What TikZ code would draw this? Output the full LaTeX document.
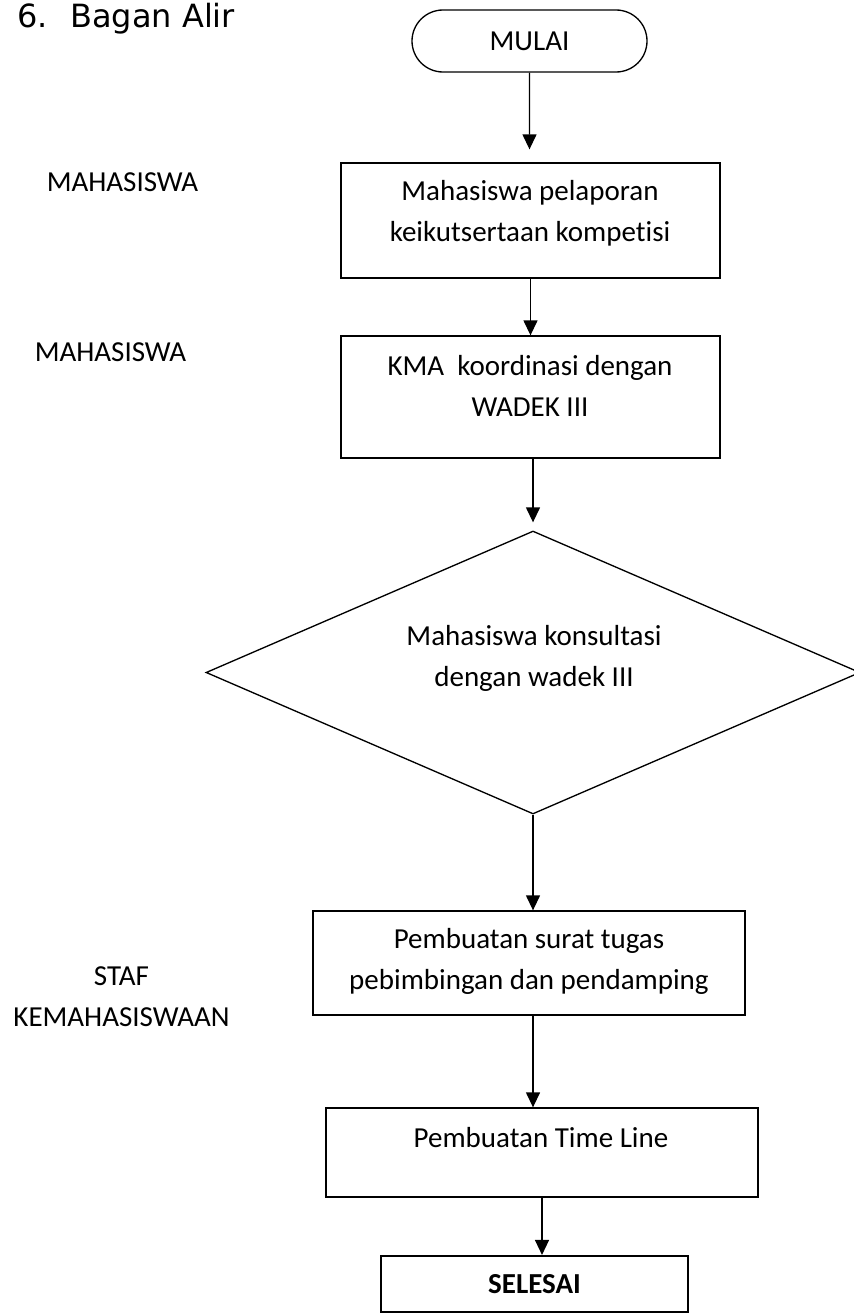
\documentclass[tikz,border=0pt]{standalone}
\usepackage{fontspec}
\setmainfont{Carlito}[Ligatures=NoCommon]
\newfontfamily\judulfont{DejaVu Sans}
\usetikzlibrary{arrows.meta,shapes.misc,shapes.geometric}

\begin{document}
\begin{tikzpicture}[x=0.75pt,y=-0.75pt,
  font=\fontsize{21.75}{30.75}\selectfont,
  kotak/.style={draw, line width=1pt, inner sep=0pt},
  teks/.style={align=center, inner sep=0pt},
  panah/.style={-{Triangle[length=11.25pt,width=10.5pt]}, line width=1pt}]
\useasboundingbox (0,0) rectangle (853,1313);

\node[anchor=base west, inner sep=0pt, font=\judulfont\fontsize{24}{28}\selectfont] (judul) at (17,28) {6.\hspace{0.7em}Bagan Alir};

% bagan
\node[kotak, rounded rectangle, minimum width=235*0.75pt, minimum height=62*0.75pt] (mulai) at (529.5,41) {MULAI};
\node[kotak, minimum width=379*0.75pt, minimum height=115*0.75pt] (kotak1) at (530.5,220.5) {};
\node[kotak, minimum width=379*0.75pt, minimum height=122*0.75pt] (kotak2) at (530.5,397) {};
\node[kotak, diamond, minimum width=654*0.75pt, minimum height=283*0.75pt] (belah) at (533,672.5) {};
\node[kotak, minimum width=432*0.75pt, minimum height=104*0.75pt] (kotak3) at (529,963) {};
\node[kotak, minimum width=432*0.75pt, minimum height=89*0.75pt] (kotak4) at (542,1152.5) {};
\node[kotak, line width=1.6pt, minimum width=307*0.75pt, minimum height=56*0.75pt, font=\fontsize{21.75}{30.75}\selectfont\bfseries] (selesai) at (534.5,1284) {SELESAI};

\node[teks] (teks1) at (530,213) {Mahasiswa pelaporan\\keikutsertaan kompetisi};
\node[teks] (teks2) at (530,386) {KMA\ \ koordinasi dengan\\WADEK III};
\node[teks] (teksbelah) at (534,658.5) {Mahasiswa konsultasi\\dengan wadek III};
\node[teks] (teks3) at (529,961.5) {Pembuatan surat tugas\\pebimbingan dan pendamping};
\node[teks] (teks4) at (541,1138) {Pembuatan Time Line};

% pelaku
\node[teks] (peran1) at (122.5,182) {MAHASISWA};
\node[teks] (peran2) at (110.5,352) {MAHASISWA};
\node[teks] (peran3) at (121.5,997) {STAF\\KEMAHASISWAAN};

\draw[panah, shorten >=9.75pt] (mulai) -- (mulai |- kotak1.north);
\draw[panah] (kotak1) -- (kotak1.south |- kotak2.north);
\draw[panah, shorten >=6pt] (belah |- kotak2.south) -- (belah.north);
\draw[panah] (belah.south) -- (belah.south |- kotak3.north);
\draw[panah] (belah |- kotak3.south) -- (belah |- kotak4.north);
\draw[panah] (kotak4.south) -- (kotak4.south |- selesai.north);

\end{tikzpicture}
\end{document}
